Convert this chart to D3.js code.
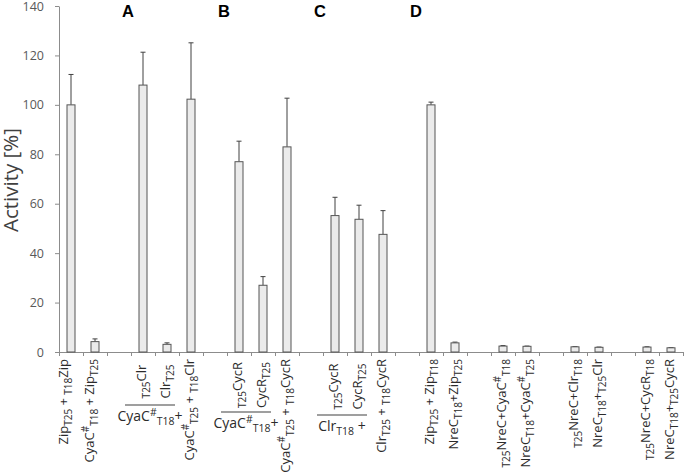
<!DOCTYPE html>
<html>
<head>
<meta charset="utf-8">
<script src="https://cdn.jsdelivr.net/npm/d3@7"></script>
<style>
  body { margin: 0; background: #fff; }
  svg { display: block; }
  text { white-space: pre; }
</style>
</head>
<body>
<svg id="chart" width="685" height="473"></svg>
<script>
// one entry per x slot, "" is an empty spacer slot
// markup: _{..} subscript, ^{..} superscript
var slotLabels = [
  "Zip_{T25} + _{T18}Zip",
  "CyaC^{#}_{T18} + Zip_{T25}",
  "",
  "_{T25}Clr",
  "Clr_{T25}",
  "CyaC^{#}_{T25} + _{T18}Clr",
  "",
  "_{T25}CycR",
  "CycR_{T25}",
  "CyaC^{#}_{T25} + _{T18}CycR",
  "",
  "_{T25}CycR",
  "CycR_{T25}",
  "Clr_{T25} + _{T18}CycR",
  "",
  "Zip_{T25} + Zip_{T18}",
  "NreC_{T18}+Zip_{T25}",
  "",
  "_{T25}NreC+CyaC^{#}_{T18}",
  "NreC_{T18}+CyaC^{#}_{T25}",
  "",
  "_{T25}NreC+Clr_{T18}",
  "NreC_{T18}+_{T25}Clr",
  "",
  "_{T25}NreC+CycR_{T18}",
  "NreC_{T18}+_{T25}CycR"
];
var activity = [100, 4.2, null, 108, 3.1, 102.3, null, 77, 27, 83, null, 55.2, 53.7, 47.6, null, 100, 3.7, null, 2.4, 2.3, null, 2.1, 1.9, null, 2.0, 1.7];
var errUp    = [12.3, 1.1, null, 13.3, 0.6, 22.8, null, 8.3, 3.5, 19.7, null, 7.4, 5.7, 9.6, null, 1.1, 0.3, null, 0.2, 0.1, null, 0.1, 0.1, null, 0.1, 0.1];
var yTicks = [0, 20, 40, 60, 80, 100, 120, 140];
var panelNames = ["A", "B", "C", "D"];
var panelFirstSlot = [3, 7, 11, 15];
// common partner written under a pair of bars
var pairSlots = [[3, 4], [7, 8], [11, 12]];
var pairTexts = ["CyaC^{#}_{T18}+", "CyaC^{#}_{T18}+", "Clr_{T18} +"];

var svg = d3.select("#chart"),
  plotLeft = 59, plotRight = 683, plotTop = 6, plotBottom = 352;

var x = d3.scaleBand().domain(d3.range(slotLabels.length)).range([plotLeft, plotRight]).padding(0),
  xEdge = d3.scaleLinear().domain([0, slotLabels.length]).range([plotLeft, plotRight]),
  y = d3.scaleLinear().domain([0, 140]).range([plotBottom, plotTop]);

var mid = function(i) { return x(i) + x.bandwidth() / 2; };
var barW = x.bandwidth() / 3;

// rich text with sub/superscripts as tspans
function richText(sel, str, size, small) {
  var parts = str.match(/(_\{[^}]*\}|\^\{[^}]*\}|[^_^]+)/g) || [];
  var shift = 0;
  parts.forEach(function(p) {
    var kind = "n", t = p;
    if (p[0] === "_") { kind = "sub"; t = p.slice(2, -1); }
    else if (p[0] === "^") { kind = "sup"; t = p.slice(2, -1); }
    var target = kind === "sub" ? 3.5 : (kind === "sup" ? -5 : 0);
    sel.append("tspan")
      .attr("dy", target - shift)
      .style("font-size", (kind === "n" ? size : small) + "px")
      .text(t);
    shift = target;
  });
}

// y axis
svg.append("g")
  .attr("transform", "translate(" + plotLeft + ",0)")
  .call(d3.axisLeft(y).tickValues(yTicks).tickSize(4).tickSizeOuter(0).tickPadding(11))
  .call(function(g) {
    g.select(".domain").attr("stroke", "#8c8c8c");
    g.selectAll(".tick line").attr("stroke", "#8c8c8c");
    g.selectAll(".tick text")
      .attr("fill", "#595959")
      .style("font-family", "'Open Sans', sans-serif")
      .style("font-size", "12.5px");
  });

// x axis: ticks between slots
svg.append("g")
  .attr("transform", "translate(0," + plotBottom + ")")
  .call(d3.axisBottom(xEdge).tickValues(d3.range(slotLabels.length + 1)).tickFormat("").tickSize(4).tickSizeOuter(0))
  .call(function(g) {
    g.select(".domain").attr("stroke", "#8c8c8c");
    g.selectAll(".tick line").attr("stroke", "#8c8c8c");
  });

svg.append("text")
  .attr("transform", "translate(18,180) rotate(-90)")
  .attr("text-anchor", "middle")
  .attr("fill", "#404040")
  .style("font-family", "'Open Sans', sans-serif")
  .style("font-size", "20.5px")
  .text("Activity [%]");

// panel letters
svg.selectAll(".panel")
  .data(panelNames)
  .enter().append("text")
  .attr("class", "panel")
  .attr("x", function(d, i) { return xEdge(panelFirstSlot[i]) - 3; })
  .attr("y", 17)
  .attr("text-anchor", "middle")
  .style("font-family", "'Liberation Sans', Arial, sans-serif")
  .style("font-weight", "bold")
  .style("font-size", "16.5px")
  .text(function(d) { return d; });

var data = activity.map(function(v, i) { return {i: i, v: v, e: errUp[i]}; })
  .filter(function(d) { return d.v !== null; });

// error bars (upper only)
var err = svg.selectAll(".err").data(data).enter().append("g").attr("class", "err")
  .attr("stroke", "#404040").attr("stroke-width", 1);
err.append("line")
  .attr("x1", function(d) { return mid(d.i); })
  .attr("x2", function(d) { return mid(d.i); })
  .attr("y1", function(d) { return y(d.v); })
  .attr("y2", function(d) { return y(d.v + d.e); });
err.append("line")
  .attr("x1", function(d) { return mid(d.i) - 2.5; })
  .attr("x2", function(d) { return mid(d.i) + 2.5; })
  .attr("y1", function(d) { return y(d.v + d.e); })
  .attr("y2", function(d) { return y(d.v + d.e); });

svg.selectAll(".bar")
  .data(data)
  .enter().append("rect")
  .attr("class", "bar")
  .attr("x", function(d) { return mid(d.i) - barW / 2; })
  .attr("y", function(d) { return y(d.v); })
  .attr("width", barW)
  .attr("height", function(d) { return plotBottom - y(d.v); })
  .attr("fill", "#ebebeb")
  .attr("stroke", "#555")
  .attr("stroke-width", 1);

// rotated category labels
var pairLineY = [405, 412, 415];
var labelNudge = {0: -6, 1: -4};
var inPair = {};
pairSlots.forEach(function(p, k) { p.forEach(function(s) { inPair[s] = k; }); });

slotLabels.forEach(function(lab, i) {
  if (!lab) return;
  var k = inPair[i];
  var yAnchor = k === undefined ? 359 : (358 + pairLineY[k]) / 2;
  var t = svg.append("text")
    .attr("transform", "translate(" + (mid(i) + 3 + (labelNudge[i] || 0)) + "," + yAnchor + ") rotate(-90)")
    .attr("text-anchor", k === undefined ? "end" : "middle")
    .attr("fill", "#2b2b2b")
    .style("font-family", "'Open Sans', sans-serif");
  richText(t, lab, 13, 10);
});

// fraction-like pair labels
pairSlots.forEach(function(p, k) {
  var cx = (x(p[0]) + x(p[1]) + x.bandwidth()) / 2 - 5;
  svg.append("line")
    .attr("x1", cx - 25).attr("x2", cx + 25)
    .attr("y1", pairLineY[k]).attr("y2", pairLineY[k])
    .attr("stroke", "#404040").attr("stroke-width", 1.2);
  var t = svg.append("text")
    .attr("x", cx).attr("y", pairLineY[k] + 16)
    .attr("text-anchor", "middle")
    .attr("fill", "#2b2b2b")
    .style("font-family", "'Open Sans', sans-serif");
  richText(t, pairTexts[k], 14, 10.5);
});
</script>
</body>
</html>
